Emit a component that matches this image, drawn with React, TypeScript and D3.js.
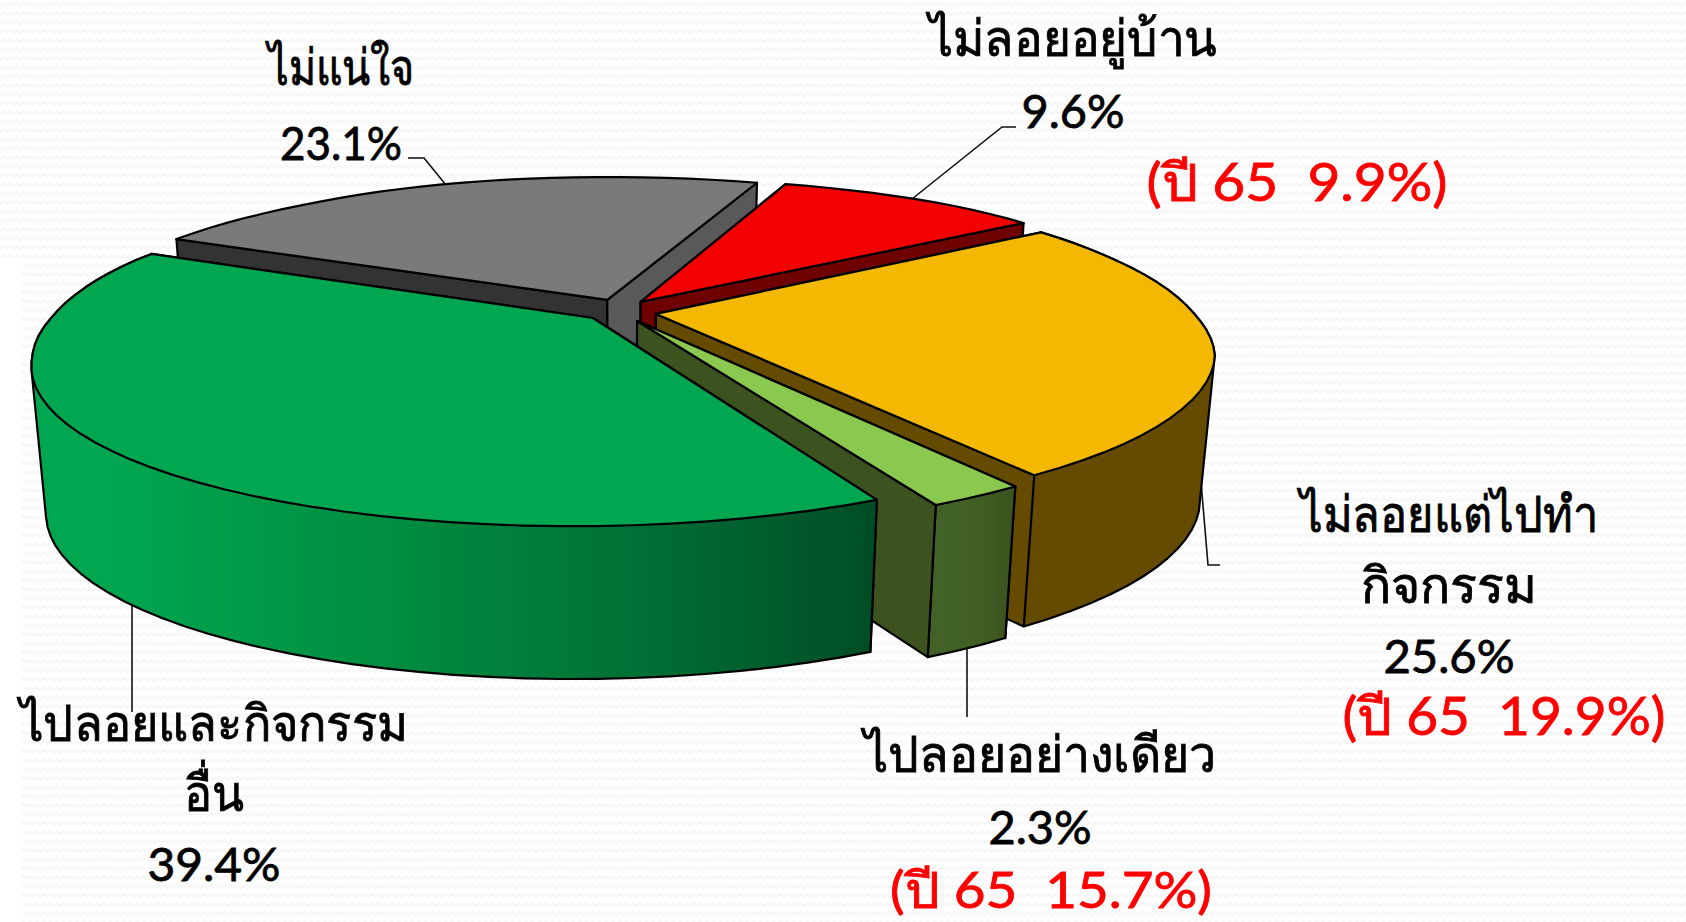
import React from "react";
import * as d3 from "d3";

const names = ["ไม่ลอยแต่ไปทำกิจกรรม", "ไปลอยอย่างเดียว", "ไปลอยและกิจกรรมอื่น", "ไม่แน่ใจ", "ไม่ลอยอยู่บ้าน"];
const shares = [25.6, 2.3, 39.4, 23.1, 9.6];
const topColors = ["#F4B800", "#8BC850", "#00A650", "#7A7A7A", "#F50000"];
const startFaceColors = ["#654B00", "#3C5320", "#004D25", "#333333", "#6F0000"];
const endFaceColors = ["#654B00", "#3C5320", "#004D25", "#595959", "#6F0000"];
const wallFills = ["#654B00", "url(#wallLight)", "url(#wallGreen)", null, null];
const apexes: [number, number][] = [[656, 314], [637, 321], [593, 318], [607, 300], [641, 302]];
const startVisible = [false, false, false, true, false];
const endVisible = [true, true, false, true, true];

type Label = { text: string; color: string; x: number; y: number; size: number; len: number };
const labels: Label[] = [
  { text: "ไม่แน่ใจ", color: "#000", x: 341, y: 85, size: 50, len: 146 },
  { text: "23.1%", color: "#000", x: 341, y: 160, size: 46, len: 122 },
  { text: "ไม่ลอยอยู่บ้าน", color: "#000", x: 1073, y: 56, size: 50, len: 288 },
  { text: "9.6%", color: "#000", x: 1073, y: 128, size: 46, len: 103 },
  { text: "(ปี 65  9.9%)", color: "#FF0000", x: 1297, y: 201, size: 52, len: 301 },
  { text: "ไม่ลอยแต่ไปทำ", color: "#000", x: 1449, y: 532, size: 50, len: 298 },
  { text: "กิจกรรม", color: "#000", x: 1449, y: 603, size: 50, len: 176 },
  { text: "25.6%", color: "#000", x: 1449, y: 673, size: 46, len: 131 },
  { text: "(ปี 65  19.9%)", color: "#FF0000", x: 1504, y: 735, size: 52, len: 323 },
  { text: "ไปลอยอย่างเดียว", color: "#000", x: 1040, y: 772, size: 50, len: 352 },
  { text: "2.3%", color: "#000", x: 1040, y: 844, size: 46, len: 103 },
  { text: "(ปี 65  15.7%)", color: "#FF0000", x: 1051, y: 908, size: 50, len: 322 },
  { text: "ไปลอยและกิจกรรม", color: "#000", x: 214, y: 741, size: 50, len: 388 },
  { text: "อื่น", color: "#000", x: 214, y: 811, size: 50, len: 60 },
  { text: "39.4%", color: "#000", x: 214, y: 881, size: 46, len: 133 },
];
const leaders: [number, number][][] = [
  [[446, 185], [424, 158], [408, 158]],
  [[912, 199], [1002, 127], [1016, 127]],
  [[1200, 470], [1208, 565], [1220, 565]],
  [[967, 647], [967, 717]],
  [[132, 595], [132, 712]],
];

const W = 1686, H = 922;
const Cx = 615, Cy = 316, R = 540, K = 155, P = 0.25;
const toRad = Math.PI / 180;

// Small empirical correction of the projected x position, by depth in the pie's plane.
const xCorrection = d3.scaleLinear().domain([-1.1, -0.85, -0.4, 0.25, 0.85, 1.1]).range([4, 12, 5, 7, -3, -5]);
const backWiden = 15;

function top(x: number, v: number): [number, number] {
  const s = 1 / (1 - P * v);
  return [
    Cx + R * x * s + xCorrection(v) + backWiden * x * Math.max(0, -v),
    Cy + K * v * s + (v < 0 ? 4.5 * v : 0),
  ];
}
function bottom(x: number, v: number): [number, number] {
  const s = 1 / (1 - P * v);
  const t = top(x, v);
  return [Cx + (t[0] - Cx) * 0.975, t[1] + 145.4 * Math.pow(s, 0.17)];
}

const pieGen = d3.pie<number>().sort(null).startAngle(54 * toRad).endAngle(414 * toRad);
const arcs = pieGen(shares);
const path = d3.line();

export default function App() {
  const slices = arcs.map((a, i) => {
    const ov = (apexes[i][1] - Cy) / K;
    const ox = (apexes[i][0] - Cx - xCorrection(ov)) / R;
    const a0 = a.startAngle - Math.PI / 2;
    const a1 = a.endAngle - Math.PI / 2;
    const count = Math.ceil((a1 - a0) / (3 * toRad)) + 1;
    const steps = d3.range(0, count).map((k) => a0 + ((a1 - a0) * k) / (count - 1));
    const plan = steps.map((t) => [ox + Math.cos(t), ov + Math.sin(t)] as [number, number]);
    const topArc = plan.map((p) => top(p[0], p[1]));
    const botArc = plan.map((p) => bottom(p[0], p[1]));
    const aT = top(ox, ov);
    const aB = bottom(ox, ov);
    const hull = d3.polygonHull([...topArc, ...botArc])!;
    return {
      i,
      top: path([aT, ...topArc])! + "Z",
      wall: path(hull)! + "Z",
      startFace: path([aT, topArc[0], botArc[0], aB])! + "Z",
      endFace: path([aT, topArc[topArc.length - 1], botArc[botArc.length - 1], aB])! + "Z",
    };
  });
  const order = [3, 4, 0, 1, 2];
  const common = { stroke: "#000", strokeWidth: 2.2, strokeLinejoin: "round" as const };
  return (
    <svg
      width={W}
      height={H}
      viewBox={`0 0 ${W} ${H}`}
      style={{ position: "fixed", left: 0, top: 0, background: "#fff" }}
      role="img"
      aria-label={names.join(", ")}
    >
      <defs>
        <pattern id="bgWave" width="13.4" height="9" patternUnits="userSpaceOnUse">
          <path d="M0 6 L3.35 3 L6.7 6 L10.05 3 L13.4 6" fill="none" stroke="#F7F7F7" strokeWidth="2.4" />
        </pattern>
        <linearGradient id="wallGreen" gradientUnits="userSpaceOnUse" x1="40" x2="872" y1="0" y2="0">
          <stop offset="0.08" stopColor="#00A650" />
          <stop offset="0.4" stopColor="#008F41" />
          <stop offset="0.7" stopColor="#007236" />
          <stop offset="1" stopColor="#004D25" />
        </linearGradient>
        <linearGradient id="wallLight" gradientUnits="userSpaceOnUse" x1="930" x2="1012" y1="0" y2="0">
          <stop offset="0" stopColor="#426229" />
          <stop offset="0.5" stopColor="#416024" />
          <stop offset="1" stopColor="#3C5320" />
        </linearGradient>
      </defs>
      <rect x={0} y={0} width={W} height={H} fill="url(#bgWave)" />
      <rect x={0} y={258} width={22} height={H - 258} fill="#fff" />
      {leaders.map((l, i) => (
        <path key={i} d={path(l)!} fill="none" stroke="#111" strokeWidth={1.6} />
      ))}
      {order.map((i) => {
        const s = slices[i];
        return (
          <g key={i}>
            {!startVisible[i] && <path d={s.startFace} fill={startFaceColors[i]} {...common} />}
            {!endVisible[i] && <path d={s.endFace} fill={endFaceColors[i]} {...common} />}
            {wallFills[i] && <path d={s.wall} fill={wallFills[i]!} {...common} />}
            {startVisible[i] && <path d={s.startFace} fill={startFaceColors[i]} {...common} />}
            {endVisible[i] && <path d={s.endFace} fill={endFaceColors[i]} {...common} />}
            <path d={s.top} fill={topColors[i]} {...common} />
          </g>
        );
      })}
      <g fontFamily="Lato, 'Noto Sans', 'DejaVu Sans', sans-serif" textAnchor="middle">
        {labels.map((l, i) => (
          <text
            key={i}
            x={l.x}
            y={l.y}
            fontSize={l.size}
            fill={l.color}
            stroke={l.color}
            strokeWidth={0.8}
            textLength={l.len}
            lengthAdjust="spacingAndGlyphs"
            xmlSpace="preserve"
          >
            {l.text}
          </text>
        ))}
      </g>
    </svg>
  );
}
